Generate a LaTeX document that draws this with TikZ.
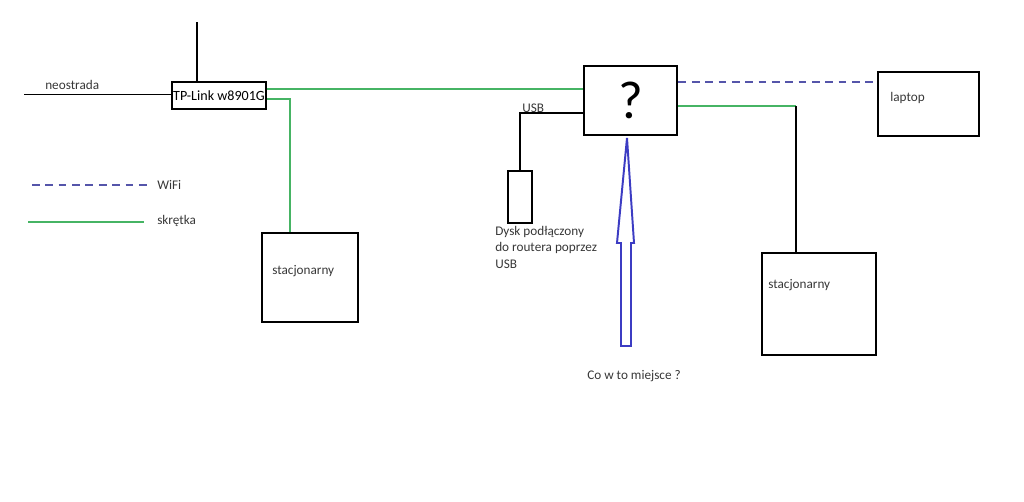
\documentclass[tikz,border=0pt]{standalone}
\usepackage{fontspec}
\setmainfont{Carlito}
\usetikzlibrary{positioning}
\definecolor{cablegreen}{RGB}{70,180,100}
\definecolor{wifiblue}{RGB}{85,85,170}
\definecolor{hintblue}{RGB}{60,60,195}
\definecolor{txtgray}{RGB}{55,55,55}

\begin{document}
\begin{tikzpicture}[
  x=0.025cm, y=-0.025cm,
  box/.style={draw, line width=2pt, inner sep=0pt},
  txt/.style={font=\fontsize{9.4}{11.6}\selectfont, text=txtgray, inner sep=0pt},
  wire/.style={line width=2pt},
  skretka/.style={draw=cablegreen, line width=1.5pt},
  wifi/.style={draw=wifiblue, line width=1.5pt, dash pattern=on 5.5pt off 4pt},
  hollow/.style={draw=hintblue, line width=1.4pt, line join=miter}
]
\useasboundingbox (0,0) rectangle (1024,501);
\node[box, minimum width=2.35cm, minimum height=0.675cm, font=\fontsize{10}{12}\selectfont] (router) at (219,95.5) {TP-Link w8901G};
\node[box, minimum width=2.325cm, minimum height=1.725cm, font=\fontsize{38}{40}\selectfont] (qbox) at (630.5,100.5) {?};
\node[box, minimum width=0.6cm, minimum height=1.3cm] (disk) at (520,197) {};
\node[box, minimum width=2.525cm, minimum height=1.6cm] (laptop) at (928.5,104) {};
\node[box, minimum width=2.4cm, minimum height=2.225cm] (pc1) at (310,277.5) {};
\node[box, minimum width=2.85cm, minimum height=2.55cm] (pc2) at (819,304) {};

\node[txt, anchor=west] (lapname) at (890,98) {laptop};
\node[txt, anchor=west] (pc1name) at (272,271) {stacjonarny};
\node[txt, anchor=west] (pc2name) at (768,285) {stacjonarny};
\node[txt, anchor=west] (ispname) at (45,85) {neostrada};
\node[txt, anchor=west] (usbname) at (522,108) {USB};
\node[txt, anchor=north west, align=left] (diskname) at (495,226) {Dysk podłączony\\do routera poprzez\\USB};
\node[txt] (question) at (634,376) {Co w to miejsce ?};
\node[txt, anchor=west] (wifiname) at (157,185) {WiFi};
\node[txt, anchor=west] (cablename) at (157,221) {skrętka};

\coordinate (ant) at (197,22);
\coordinate (isp) at (24,94);
\coordinate (bend) at (796,106);
\coordinate (tip) at (627,138);
\coordinate (wifiA) at (32,185);
\coordinate (wifiB) at (148,185);
\coordinate (cableA) at (28,222);
\coordinate (cableB) at (144,222);

\draw[wire] (ant) -- (ant |- router.north);
\draw[line width=0.6pt] (isp) -- (isp -| router.west);
\draw[skretka] (router.east |- 0,89) -- (qbox.west |- 0,89);
\draw[skretka] (router.east |- 0,99) -| ([xshift=-0.5cm]pc1.north);
\draw[wire] (qbox.west |- 0,113) -| (disk.north);
\draw[wifi] (qbox.east |- 0,82) -- (laptop.west |- 0,82);
\draw[skretka] (qbox.east |- bend) -- (bend);
\draw[wire] (bend) -- (bend |- pc2.north);
\draw[hollow] (tip) -- ++(7,105) -- ++(-3,0) -- ++(0,103) -- ++(-10,0) -- ++(0,-103) -- ++(-4,0) -- cycle;
\draw[wifi] (wifiA) -- (wifiB);
\draw[skretka] (cableA) -- (cableB);
\end{tikzpicture}
\end{document}
